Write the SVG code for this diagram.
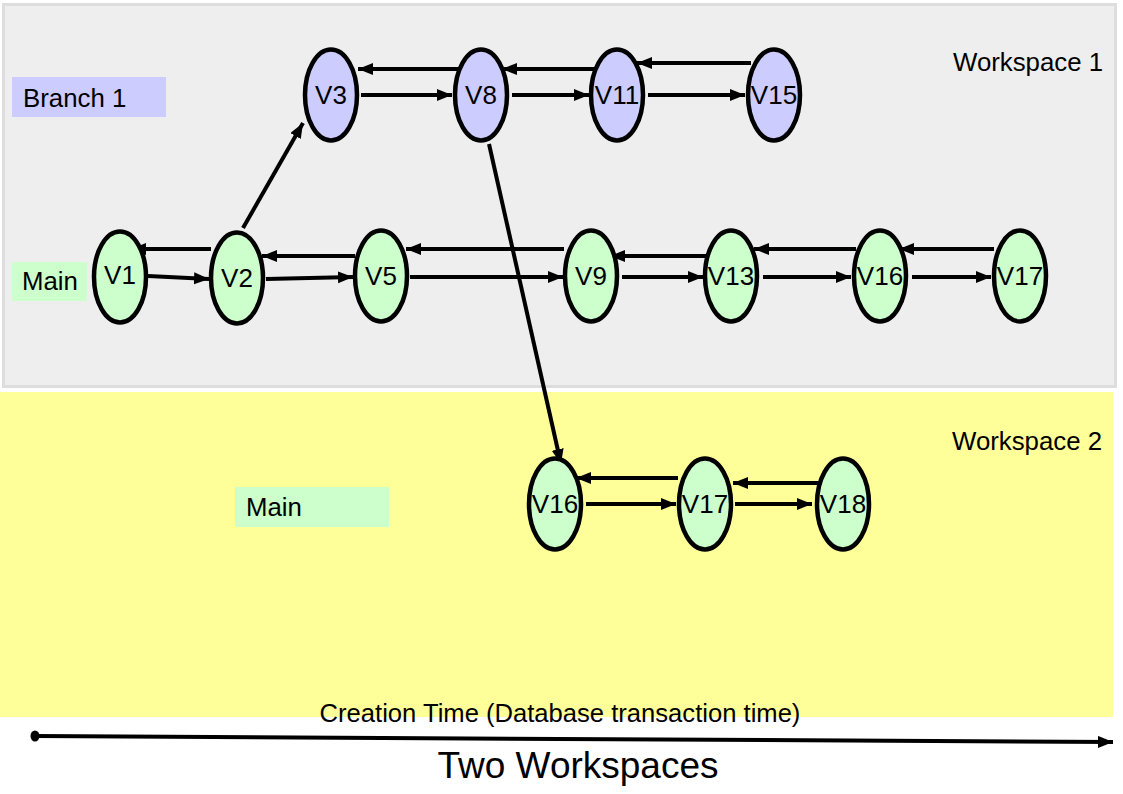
<svg xmlns="http://www.w3.org/2000/svg" width="1123" height="794" viewBox="0 0 1123 794">
<defs>
<style>
text{font-family:"Liberation Sans",Arial,sans-serif;fill:#000}
.lbl{font-size:25.8px}
.nt{font-size:26px;text-anchor:middle}
.g ellipse{fill:#ccffcc;stroke:#000;stroke-width:4.5}
.b ellipse{fill:#ccccff;stroke:#000;stroke-width:4.5}
.e{stroke:#000;stroke-width:4;fill:none;marker-end:url(#ah)}
</style>
<marker id="ah" markerUnits="userSpaceOnUse" markerWidth="16" markerHeight="13" refX="15" refY="6" orient="auto">
<path d="M0,0 L15,6 L0,12 z" fill="#000"/>
</marker>
</defs>
<rect x="0" y="0" width="1123" height="794" fill="#fff"/>
<g id="workspace1">
<rect x="3.5" y="4.5" width="1112" height="382" fill="#eeeeee" stroke="#dddddd" stroke-width="3"/>
<text class="lbl" x="953" y="71">Workspace 1</text>
</g>
<g id="workspace2">
<rect x="0" y="392" width="1113" height="325" fill="#ffff99"/>
<text class="lbl" x="952" y="450">Workspace 2</text>
</g>
<g id="label-branch1">
<rect x="12" y="77" width="154" height="40" fill="#ccccff"/>
<text class="lbl" x="23" y="107">Branch 1</text>
</g>
<g id="label-main1">
<rect x="12" y="262" width="75" height="39" fill="#ccffcc"/>
<text class="lbl" x="22" y="290">Main</text>
</g>
<g id="label-main2">
<rect x="235" y="487" width="154" height="40" fill="#ccffcc"/>
<text class="lbl" x="246" y="516">Main</text>
</g>
<g id="connectors">
<line class="e" x1="463" y1="69" x2="358" y2="69"/>
<line class="e" x1="598" y1="69" x2="502" y2="69"/>
<line class="e" x1="751" y1="63" x2="637" y2="63"/>
<line class="e" x1="361" y1="95" x2="452" y2="95"/>
<line class="e" x1="512" y1="95" x2="589" y2="95"/>
<line class="e" x1="648" y1="95" x2="745" y2="95"/>
<line class="e" x1="211" y1="249" x2="131" y2="249"/>
<line class="e" x1="355" y1="256" x2="262" y2="256"/>
<line class="e" x1="564" y1="249" x2="406" y2="249"/>
<line class="e" x1="711" y1="256" x2="610" y2="256"/>
<line class="e" x1="856" y1="249" x2="754" y2="249"/>
<line class="e" x1="994" y1="249" x2="899" y2="249"/>
<line class="e" x1="148" y1="276" x2="209" y2="279"/>
<line class="e" x1="266" y1="279" x2="353" y2="277"/>
<line class="e" x1="410" y1="277" x2="563" y2="277"/>
<line class="e" x1="622" y1="277" x2="703" y2="277"/>
<line class="e" x1="763" y1="277" x2="851" y2="277"/>
<line class="e" x1="912" y1="277" x2="991" y2="277"/>
<line class="e" x1="243" y1="228" x2="303" y2="123"/>
<line class="e" x1="489" y1="144" x2="561" y2="464"/>
<line class="e" x1="678" y1="478" x2="576" y2="478"/>
<line class="e" x1="829" y1="483" x2="733" y2="483"/>
<line class="e" x1="586" y1="504" x2="676" y2="504"/>
<line class="e" x1="735" y1="504" x2="812" y2="504"/>
</g>
<g id="V3" class="b"><ellipse cx="331" cy="95" rx="26" ry="45.5"/><text class="nt" x="331" y="104">V3</text></g>
<g id="V8" class="b"><ellipse cx="481" cy="95" rx="26" ry="45.5"/><text class="nt" x="481" y="104">V8</text></g>
<g id="V11" class="b"><ellipse cx="617" cy="95" rx="26" ry="45.5"/><text class="nt" x="617" y="104">V11</text></g>
<g id="V15" class="b"><ellipse cx="774" cy="95" rx="26" ry="45.5"/><text class="nt" x="774" y="104">V15</text></g>
<g id="V1" class="g"><ellipse cx="120" cy="277" rx="26" ry="45.5"/><text class="nt" x="120" y="284">V1</text></g>
<g id="V2" class="g"><ellipse cx="237" cy="278" rx="26" ry="45.5"/><text class="nt" x="237" y="287">V2</text></g>
<g id="V5" class="g"><ellipse cx="381" cy="276" rx="26" ry="45.5"/><text class="nt" x="381" y="285">V5</text></g>
<g id="V9" class="g"><ellipse cx="591" cy="276" rx="26" ry="45.5"/><text class="nt" x="591" y="285">V9</text></g>
<g id="V13" class="g"><ellipse cx="731" cy="276" rx="26" ry="45.5"/><text class="nt" x="731" y="285">V13</text></g>
<g id="V16" class="g"><ellipse cx="880" cy="276" rx="26" ry="45.5"/><text class="nt" x="880" y="285">V16</text></g>
<g id="V17" class="g"><ellipse cx="1020" cy="276" rx="26" ry="45.5"/><text class="nt" x="1020" y="285">V17</text></g>
<g id="V16-ws2" class="g"><ellipse cx="555" cy="504" rx="26" ry="45.5"/><text class="nt" x="555" y="513">V16</text></g>
<g id="V17-ws2" class="g"><ellipse cx="705" cy="504" rx="26" ry="45.5"/><text class="nt" x="705" y="513">V17</text></g>
<g id="V18" class="g"><ellipse cx="843" cy="504" rx="26" ry="45.5"/><text class="nt" x="843" y="513">V18</text></g>
<g id="time-axis">
<text x="560" y="722" style="font-size:25.6px;text-anchor:middle">Creation Time (Database transaction time)</text>
<ellipse cx="35" cy="736" rx="4.5" ry="5.5" fill="#000"/>
<line x1="35" y1="736" x2="1113" y2="742" stroke="#000" stroke-width="4" marker-end="url(#ah)"/>
<text x="578" y="778" style="font-size:37px;text-anchor:middle">Two Workspaces</text>
</g>
</svg>
